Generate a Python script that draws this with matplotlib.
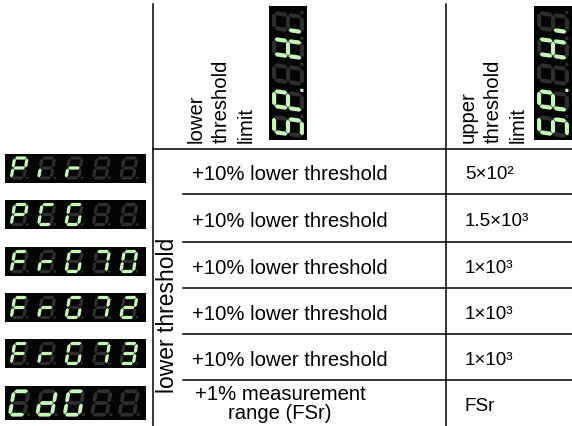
import numpy as np
import matplotlib
matplotlib.use('Agg')
import matplotlib.pyplot as plt
from matplotlib.patches import Polygon, Rectangle

plt.rcParams['font.family'] = ['Liberation Sans', 'DejaVu Sans']

# dados da tabela
row_codes = ['Pir  ', 'PCG  ', 'FrG70', 'FrG72', 'FrG73', 'CdG  ']
low_limits = ['+10% lower threshold'] * 5 + ['+1% measurement\nrange (FSr)']
up_limits = ['5×10²', '1.5×10³', '1×10³', '1×10³', '1×10³', 'FSr']
header_code = 'SP Hi'
header_dots = [False, True, False, False, False]
header_labels = ['lower\nthreshold\nlimit', 'upper\nthreshold\nlimit']
side_label = 'lower threshold'

# segmentos acesos por caractere
SEG = {
    '0': 'abcdef', '2': 'abdeg', '3': 'abcdg', '7': 'abc', '8': 'abcdefg',
    'P': 'abefg', 'i': 'e', 'r': 'eg', 'C': 'adef', 'G': 'acdef',
    'F': 'aefg', 'd': 'bcdeg', 'S': 'acdfg', 'H': 'bcefg', ' ': '',
}
LIT = '#c8f7bc'
OFF = '#2e2e2e'
BG = '#040404'

W, H = 572, 427
fig = plt.figure(figsize=(W / 100, H / 100), dpi=100)
ax = fig.add_axes([0, 0, 1, 1])
ax.set_xlim(0, W)
ax.set_ylim(H, 0)
ax.axis('off')


def hexseg(p1, p2, t, gap=0.35):
    p1, p2 = np.array(p1, float), np.array(p2, float)
    u = (p2 - p1) / np.linalg.norm(p2 - p1)
    n = np.array([-u[1], u[0]])
    h = t / 2
    a = p1 + u * gap
    b = p2 - u * gap
    return np.array([a, a + u * h + n * h, b - u * h + n * h, b,
                     b - u * h - n * h, a + u * h - n * h])


def draw_digit(cx, cy, ch, dot, hh, ww, t, slant=0.17, rot=False):
    a, b = (ww - t) / 2, (hh - t) / 2
    segs = {
        'a': ((-a, b), (a, b)), 'b': ((a, b), (a, 0)), 'c': ((a, 0), (a, -b)),
        'd': ((-a, -b), (a, -b)), 'e': ((-a, 0), (-a, -b)), 'f': ((-a, b), (-a, 0)),
        'g': ((-a, 0), (a, 0)),
    }
    lit = SEG[ch]

    def place(pts):
        pts = np.array(pts, float)
        x = pts[:, 0] + slant * pts[:, 1]
        y = pts[:, 1]
        if rot:
            return np.column_stack([cx - y, cy - x])
        return np.column_stack([cx + x, cy - y])

    for k, (p1, p2) in segs.items():
        poly = place(hexseg(p1, p2, t))
        ax.add_patch(Polygon(poly, closed=True, fc=LIT if k in lit else OFF, ec='none'))
    s = t * 0.75
    dx = a + t * 1.1
    dy = -b
    sq = [(dx - s / 2, dy - s / 2), (dx + s / 2, dy - s / 2),
          (dx + s / 2, dy + s / 2), (dx - s / 2, dy + s / 2)]
    ax.add_patch(Polygon(place(sq), closed=True, fc=LIT if dot else OFF, ec='none'))


def draw_display(x0, y0, w, h, code, dots, rot=False):
    ax.add_patch(Rectangle((x0, y0), w, h, fc=BG, ec='none'))
    n = len(code)
    if not rot:
        pitch = (w - 4) / n
        hh = h * 0.8
        for i, ch in enumerate(code):
            draw_digit(x0 + 2 + pitch * (i + 0.5) - 1.5, y0 + h / 2, ch, dots[i],
                       hh, hh * 0.68, hh * 0.14)
    else:
        pitch = (h - 4) / n
        hh = w * 0.84
        for i, ch in enumerate(code):
            draw_digit(x0 + w / 2, y0 + h - 2 - pitch * (i + 0.5) + 1.5, ch, dots[i],
                       hh, hh * 0.6, hh * 0.13, slant=0.14, rot=True)


# linhas da tabela
row_edges = [150, 195, 243, 289, 335, 381, 427]
lw = 1.1
ax.plot([153, 153], [5, 427], color='black', lw=lw)
ax.plot([446, 446], [5, 427], color='black', lw=lw)
ax.plot([153, 572], [150, 150], color='black', lw=lw)
for y in row_edges[1:-1]:
    ax.plot([183, 572], [y, y], color='black', lw=lw)

fs = 14.6
# cabeçalho
hdr_x = [187, 459]
for x, lab in zip(hdr_x, header_labels):
    ax.text(x, 143, lab, rotation=90, ha='left', va='bottom', fontsize=fs,
            multialignment='left', linespacing=1.4)
draw_display(269, 7, 38, 134, header_code, header_dots, rot=True)
draw_display(534, 7, 38, 134, header_code, header_dots, rot=True)

ax.text(167, 315, side_label, rotation=90, ha='center', va='center', fontsize=16.5)

# linhas de dados
for i, (code, low, up) in enumerate(zip(row_codes, low_limits, up_limits)):
    top, bot = row_edges[i], row_edges[i + 1]
    mid = (top + bot) / 2
    if i < 5:
        draw_display(5, mid - 18, 141, 29, code, [False] * 5)
    else:
        draw_display(5, mid - 17, 141, 34, code, [False] * 5)
    if '\n' in low:
        ax.text(280, mid, low, ha='center', va='center', fontsize=fs,
                multialignment='center', linespacing=0.95)
    else:
        ax.text(192, mid + 8, low, ha='left', va='baseline', fontsize=fs)
    ax.text(465, mid + 7, up, ha='left', va='baseline', fontsize=fs - 1)

fig.savefig('out.png', dpi=100)
